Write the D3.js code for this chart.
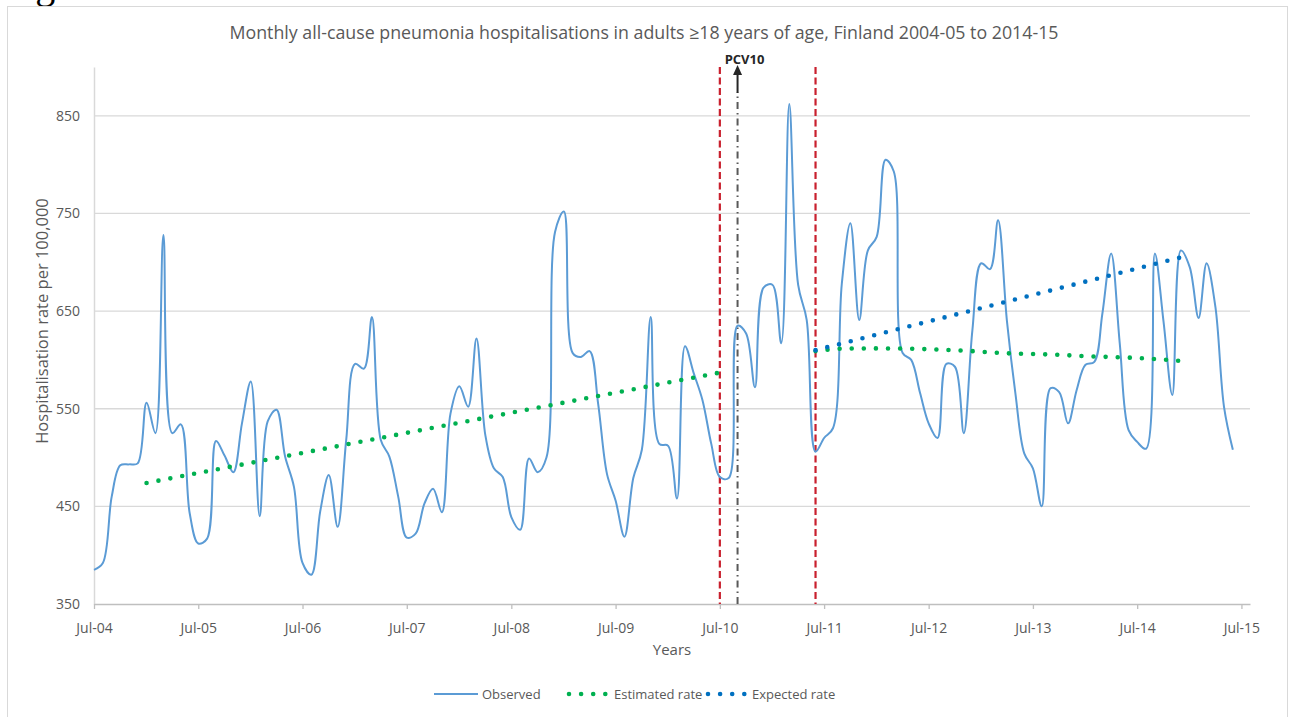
<!DOCTYPE html>
<html>
<head>
<meta charset="utf-8">
<script src="https://cdn.jsdelivr.net/npm/d3@7"></script>
<style>
body { margin: 0; background: #fff; }
svg text { font-family: "Open Sans", sans-serif; fill: #595959; }
</style>
</head>
<body>
<div id="chart"></div>
<script>
// months counted from Jul 2004 (0 = Jul-04)
var startMonth = new Date(2004, 6, 1);

// observed monthly rate per 100,000, Jul 2004 .. Jun 2015
var observed = [
  385, 392, 460, 492, 493, 494, 556, 525, 728, 525, 534, 443,
  412, 417, 517, 502, 485, 535, 578, 440, 537, 549, 501, 470,
  392, 380, 445, 482, 429, 518, 596, 591, 644, 518, 501, 460,
  418, 422, 453, 468, 444, 545, 573, 552, 622, 523, 489, 480,
  439, 426, 499, 485, 500, 731, 752, 607, 603, 609, 555, 483,
  456, 419, 479, 508, 644, 514, 512, 458, 614, 586, 559, 514,
  480, 479, 635, 627, 572, 674, 677, 617, 862, 677, 641, 506,
  520, 530, 678, 740, 641, 712, 726, 805, 793, 607, 600, 566,
  535, 520, 596, 593, 525, 630, 699, 693, 743, 640, 565, 504,
  489, 450, 571, 567, 535, 569, 595, 598, 647, 709, 617, 528,
  516, 509, 709, 640, 564, 712, 695, 643, 699, 654, 552, 508
];

// estimated rate (trend), pre and post period
var estPreMonths = [6, 72];
var estPreValues = [474, 587];
var estPostMonths = [83, 86, 90, 95, 100, 105, 110, 115, 120, 125];
var estPostValues = [609, 611.5, 611.8, 611.2, 609.5, 606.8, 605.5, 603.5, 602, 599];

// expected rate
var expMonths = [83, 125];
var expValues = [610, 705];

// vertical markers
var periodMonths = [72, 83];   // red dashed lines
var pcvMonth = 74;             // PCV10 introduction

var yTicks = [350, 450, 550, 650, 750, 850];
var xTickYears = [2004, 2005, 2006, 2007, 2008, 2009, 2010, 2011, 2012, 2013, 2014, 2015];

var width = 1290, height = 717;
var plot = {left: 94, right: 1250, top: 67, bottom: 604};

function monthDate(m) { return d3.timeMonth.offset(startMonth, m); }

var xScale = d3.scaleTime()
    .domain([new Date(2004, 6, 1), new Date(2015, 6, 31)])
    .range([plot.left, plot.right]);

var yScale = d3.scaleLinear()
    .domain([350, 900])
    .range([plot.bottom, plot.top]);

var svg = d3.select("#chart")
    .append("svg")
    .attr("width", width)
    .attr("height", height);

svg.append("rect")
    .attr("width", width).attr("height", height)
    .attr("fill", "#fff");

// caption above the frame, cropped at the top of the picture
svg.append("text")
    .attr("x", 2).attr("y", -2)
    .style("font-family", "Liberation Serif, serif")
    .style("font-size", "40px")
    .style("fill", "#000")
    .text("Figure");

// chart frame
svg.append("rect")
    .attr("x", 7.5).attr("y", 6.5)
    .attr("width", 1280).attr("height", 730)
    .attr("fill", "none")
    .attr("stroke", "#D9D9D9")
    .attr("stroke-width", 1);

// title
svg.append("text")
    .attr("x", 644).attr("y", 39)
    .style("text-anchor", "middle")
    .style("font-size", "17.8px")
    .text("Monthly all-cause pneumonia hospitalisations in adults \u226518 years of age, Finland 2004-05 to 2014-15");

// gridlines
svg.append("g")
    .selectAll("line")
    .data(yTicks.filter(function(d) { return d > 350; }))
    .enter().append("line")
    .attr("x1", plot.left).attr("x2", plot.right)
    .attr("y1", function(d) { return yScale(d); })
    .attr("y2", function(d) { return yScale(d); })
    .attr("stroke", "#D9D9D9")
    .attr("stroke-width", 1.3);

// y axis
var yAxis = svg.append("g")
    .attr("transform", "translate(" + plot.left + ",0)")
    .call(d3.axisLeft(yScale).tickValues(yTicks).tickSize(0).tickPadding(14));
yAxis.select(".domain").attr("stroke", "#D9D9D9").attr("stroke-width", 1.5);
yAxis.selectAll("text")
    .style("font-size", "14px")
    .style("font-family", "Open Sans, sans-serif")
    .attr("fill", "#595959");

// x axis
var xAxis = svg.append("g")
    .attr("transform", "translate(0," + plot.bottom + ")")
    .call(d3.axisBottom(xScale)
        .tickValues(xTickYears.map(function(y) { return new Date(y, 6, 1); }))
        .tickFormat(d3.timeFormat("Jul-%y"))
        .tickSizeInner(5).tickSizeOuter(0).tickPadding(14));
xAxis.select(".domain").attr("stroke", "#BFBFBF").attr("stroke-width", 1.3);
xAxis.selectAll(".tick line").attr("stroke", "#BFBFBF").attr("stroke-width", 1.3);
xAxis.selectAll("text")
    .style("font-size", "14px")
    .style("font-family", "Open Sans, sans-serif")
    .attr("fill", "#595959");

// axis titles
svg.append("text")
    .attr("x", 672).attr("y", 655)
    .style("text-anchor", "middle")
    .style("font-size", "15px")
    .text("Years");

svg.append("text")
    .attr("transform", "translate(48,321) rotate(-90)")
    .style("text-anchor", "middle")
    .style("font-size", "16.5px")
    .text("Hospitalisation rate per 100,000");

// red period lines
svg.append("g")
    .selectAll("line")
    .data(periodMonths)
    .enter().append("line")
    .attr("x1", function(d) { return xScale(monthDate(d)); })
    .attr("x2", function(d) { return xScale(monthDate(d)); })
    .attr("y1", plot.top).attr("y2", plot.bottom)
    .attr("stroke", "#C9202E")
    .attr("stroke-width", 2.2)
    .attr("stroke-dasharray", "7 3.5");

// PCV10 marker
var pcvX = xScale(monthDate(pcvMonth));
svg.append("line")
    .attr("x1", pcvX).attr("x2", pcvX)
    .attr("y1", plot.bottom).attr("y2", 92)
    .attr("stroke", "#595959")
    .attr("stroke-width", 2)
    .attr("stroke-dasharray", "7 4 1.5 4");
svg.append("line")
    .attr("x1", pcvX).attr("x2", pcvX)
    .attr("y1", 93).attr("y2", 72)
    .attr("stroke", "#262626")
    .attr("stroke-width", 2);
svg.append("path")
    .attr("d", "M" + pcvX + ",65 L" + (pcvX - 4.5) + ",75 L" + (pcvX + 4.5) + ",75 Z")
    .attr("fill", "#262626");
svg.append("text")
    .attr("x", pcvX + 7).attr("y", 64)
    .style("text-anchor", "middle")
    .style("font-size", "13px")
    .style("font-weight", "bold")
    .style("fill", "#262626")
    .text("PCV10");

// lines
var smoothLine = d3.line()
    .x(function(d) { return xScale(monthDate(d.m)); })
    .y(function(d) { return yScale(d.v); })
    .curve(d3.curveCatmullRom.alpha(0.5));

var trendLine = d3.line()
    .x(function(d) { return xScale(monthDate(d.m)); })
    .y(function(d) { return yScale(d.v); })
    .curve(d3.curveMonotoneX);

function pairs(ms, vs) { return ms.map(function(m, i) { return {m: m, v: vs[i]}; }); }

svg.append("path")
    .datum(observed.map(function(v, i) { return {m: i, v: v}; }))
    .attr("fill", "none")
    .attr("stroke", "#5B9BD5")
    .attr("stroke-width", 2)
    .attr("stroke-linejoin", "round")
    .attr("d", smoothLine);

function dotted(data, color) {
    svg.append("path")
        .datum(data)
        .attr("fill", "none")
        .attr("stroke", color)
        .attr("stroke-width", 4.6)
        .attr("stroke-linecap", "round")
        .attr("stroke-dasharray", "0 12.1")
        .attr("d", trendLine);
}

dotted(pairs(estPreMonths, estPreValues), "#00B050");
dotted(pairs(estPostMonths, estPostValues), "#00B050");
dotted(pairs(expMonths, expValues), "#0070C0");

// legend
var legendItems = [
    {label: "Observed", color: "#5B9BD5", kind: "line", x: 434, tx: 482},
    {label: "Estimated rate", color: "#00B050", kind: "dot", x: 569, tx: 614},
    {label: "Expected rate", color: "#0070C0", kind: "dot", x: 708, tx: 752}
];
var legendY = 694;
var lg = svg.append("g").selectAll("g")
    .data(legendItems)
    .enter().append("g");
lg.append("line")
    .attr("x1", function(d) { return d.x; })
    .attr("x2", function(d) { return d.x + (d.kind === "line" ? 44 : 37); })
    .attr("y1", legendY).attr("y2", legendY)
    .attr("stroke", function(d) { return d.color; })
    .attr("stroke-width", function(d) { return d.kind === "line" ? 2 : 4.6; })
    .attr("stroke-linecap", function(d) { return d.kind === "line" ? "butt" : "round"; })
    .attr("stroke-dasharray", function(d) { return d.kind === "line" ? null : "0 12.1"; });
lg.append("text")
    .attr("x", function(d) { return d.tx; })
    .attr("y", legendY + 5)
    .style("font-size", "13px")
    .text(function(d) { return d.label; });
</script>
</body>
</html>
